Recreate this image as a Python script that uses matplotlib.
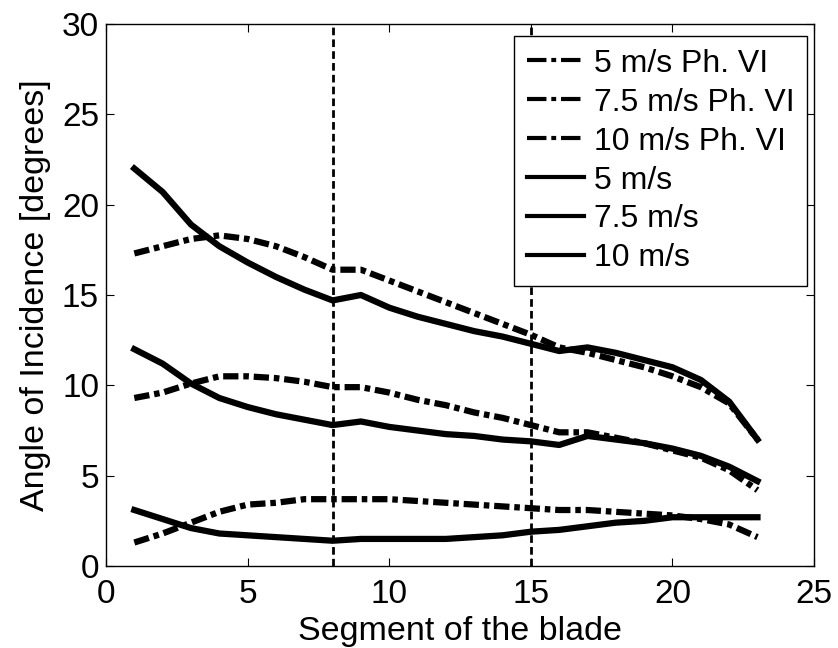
import matplotlib
matplotlib.use("Agg")
import matplotlib.pyplot as plt

plt.rcParams['font.family'] = ['Liberation Sans', 'DejaVu Sans']
plt.rcParams['lines.scale_dashes'] = False

segments = list(range(1, 24))

v5_ph6 = [1.3, 1.8, 2.4, 3.0, 3.4, 3.5, 3.7, 3.7, 3.7, 3.7, 3.6, 3.5,
          3.4, 3.3, 3.2, 3.1, 3.1, 3.0, 2.9, 2.8, 2.6, 2.3, 1.6]
v75_ph6 = [9.3, 9.6, 10.1, 10.5, 10.5, 10.4, 10.2, 9.9, 9.9, 9.6, 9.2, 8.9,
           8.5, 8.2, 7.8, 7.4, 7.4, 7.1, 6.8, 6.4, 6.0, 5.3, 4.2]
v10_ph6 = [17.3, 17.7, 18.1, 18.3, 18.1, 17.7, 17.1, 16.4, 16.4, 15.8, 15.2, 14.6,
           14.0, 13.4, 12.8, 12.1, 11.8, 11.4, 11.0, 10.5, 9.9, 9.0, 7.0]
v5 = [3.1, 2.6, 2.1, 1.8, 1.7, 1.6, 1.5, 1.4, 1.5, 1.5, 1.5, 1.5,
      1.6, 1.7, 1.9, 2.0, 2.2, 2.4, 2.5, 2.7, 2.7, 2.7, 2.7]
v75 = [12.0, 11.2, 10.1, 9.3, 8.8, 8.4, 8.1, 7.8, 8.0, 7.7, 7.5, 7.3,
       7.2, 7.0, 6.9, 6.7, 7.2, 7.0, 6.8, 6.5, 6.1, 5.5, 4.7]
v10 = [22.0, 20.7, 18.9, 17.7, 16.8, 16.0, 15.3, 14.7, 15.0, 14.3, 13.8, 13.4,
       13.0, 12.7, 12.3, 11.9, 12.1, 11.8, 11.4, 11.0, 10.3, 9.1, 7.0]

labels = ['5 m/s Ph. VI', '7.5 m/s Ph. VI', '10 m/s Ph. VI', '5 m/s', '7.5 m/s', '10 m/s']
boundaries = [8, 15]

fig = plt.figure(figsize=(8.38, 6.48), dpi=100)
ax = fig.add_axes([0.1265, 0.1265, 0.845, 0.8365])

dashdot = (0, (11, 3.5, 4, 3.5))
for ys, lab in zip([v5_ph6, v75_ph6, v10_ph6], labels[:3]):
    ax.plot(segments, ys, color='black', lw=4.5, linestyle=dashdot,
            dash_capstyle='butt', label=lab)
for ys, lab in zip([v5, v75, v10], labels[3:]):
    ax.plot(segments, ys, color='black', lw=4.5, label=lab)

for b in boundaries:
    ax.axvline(b, color='black', lw=2, linestyle=(0, (5.5, 3)))

ax.set_xlim(0, 25)
ax.set_ylim(0, 30)
ax.set_xticks([0, 5, 10, 15, 20, 25])
ax.set_yticks([0, 5, 10, 15, 20, 25, 30])
for s in ax.spines.values():
    s.set_linewidth(1.0)
ax.tick_params(direction='in', length=5.5, width=0.8, labelsize=24,
               top=True, right=True)
ax.tick_params(axis='x', pad=9)
ax.tick_params(axis='y', pad=5)
ax.set_xlabel('Segment of the blade', fontsize=24.5, labelpad=4.5)
ax.set_ylabel('Angle of Incidence [degrees]', fontsize=24.5, labelpad=8)

leg = ax.legend(loc='upper right', bbox_to_anchor=(0.990, 0.978),
                borderaxespad=0, fontsize=23, fancybox=False, framealpha=1,
                edgecolor='black', handlelength=1.8, handletextpad=0.3,
                labelspacing=0.28, borderpad=0.4)
leg.get_frame().set_linewidth(1.0)
for i, h in enumerate(leg.get_lines()):
    h.set_linewidth(3)
    if i < 3:
        h.set_dashes((14, 3.5, 3.5, 3.5))

fig.savefig('out.png', dpi=100)
